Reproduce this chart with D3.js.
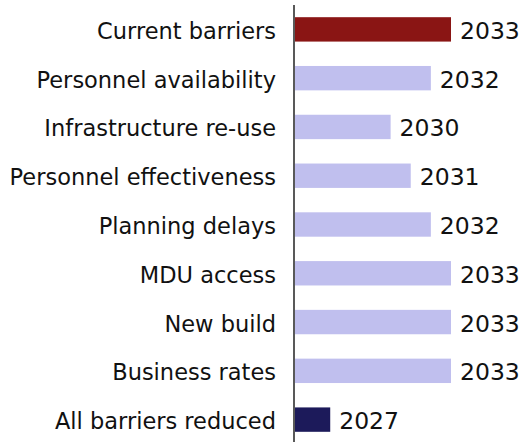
<!DOCTYPE html>
<html>
<head>
<meta charset="utf-8">
<script src="https://cdn.jsdelivr.net/npm/d3@7"></script>
<style>
  html, body { margin: 0; padding: 0; background: #fff; }
  svg { display: block; }
</style>
</head>
<body>
<div id="chart"></div>
<script>
// barriers and the year each scenario reaches the target
const categories = [
  'Current barriers',
  'Personnel availability',
  'Infrastructure re-use',
  'Personnel effectiveness',
  'Planning delays',
  'MDU access',
  'New build',
  'Business rates',
  'All barriers reduced'
];
const years = [2033, 2032, 2030, 2031, 2032, 2033, 2033, 2033, 2027];
const barColors = ['#8a1514', '#c0bfee', '#c0bfee', '#c0bfee', '#c0bfee', '#c0bfee', '#c0bfee', '#c0bfee', '#1c1a5a'];
const xDomain = [2025.25, 2033];

const width = 526, height = 442;
const axisX = 295;

const svg = d3.select('#chart')
  .append('svg')
  .attr('width', width)
  .attr('height', height);

const x = d3.scaleLinear().domain(xDomain).range([axisX, 451]);
const y = d3.scaleBand().domain(categories).range([5, 444]).paddingInner(0.5).paddingOuter(0.25);

// bars
svg.selectAll('.bar')
  .data(categories)
  .enter()
  .append('rect')
  .attr('class', 'bar')
  .attr('x', axisX)
  .attr('y', d => y(d))
  .attr('width', (d, i) => x(years[i]) - axisX)
  .attr('height', y.bandwidth())
  .attr('fill', (d, i) => barColors[i]);

// category labels
svg.selectAll('.cat')
  .data(categories)
  .enter()
  .append('text')
  .attr('class', 'cat')
  .attr('x', 276)
  .attr('y', d => y(d) + y.bandwidth() / 2 + 9.5)
  .attr('text-anchor', 'end')
  .style('font-family', 'DejaVu Sans')
  .style('font-size', '22.5px')
  .style('fill', '#111')
  .text(d => d);

// value labels
svg.selectAll('.val')
  .data(categories)
  .enter()
  .append('text')
  .attr('class', 'val')
  .attr('x', (d, i) => x(years[i]) + 9)
  .attr('y', d => y(d) + y.bandwidth() / 2 + 9.5)
  .style('font-family', 'DejaVu Sans')
  .style('font-size', '23.5px')
  .style('fill', '#111')
  .text((d, i) => years[i]);

// vertical axis line
svg.append('line')
  .attr('x1', axisX - 1)
  .attr('x2', axisX - 1)
  .attr('y1', 5)
  .attr('y2', height)
  .attr('stroke', '#222')
  .attr('stroke-width', 1.5);
</script>
</body>
</html>
